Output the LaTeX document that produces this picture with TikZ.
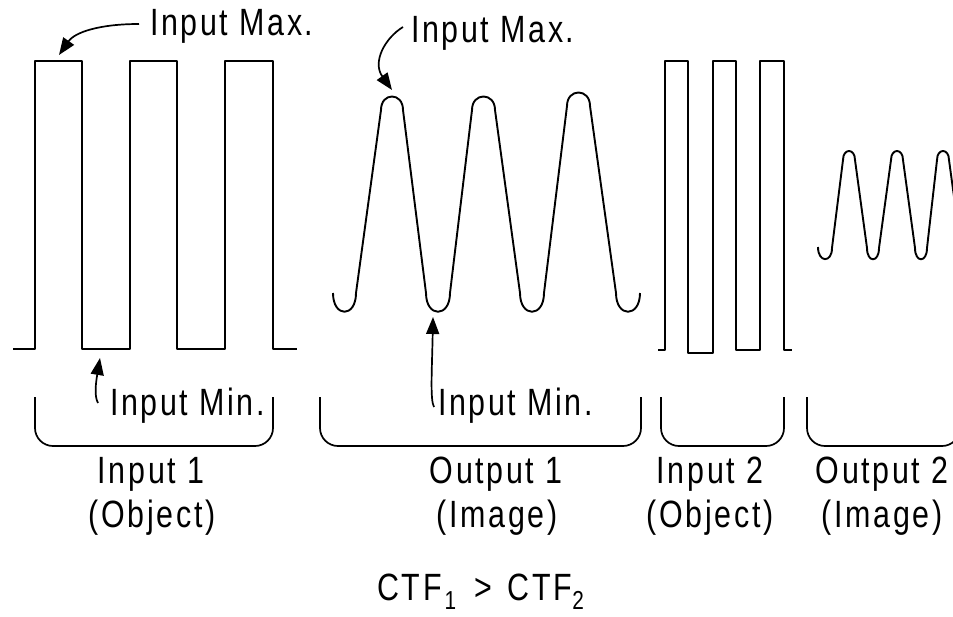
\documentclass[tikz,border=0pt]{standalone}
\usepackage{fontspec}
\setmainfont{Liberation Sans}[FakeStretch=0.8,LetterSpace=7]
\usetikzlibrary{arrows.meta}
\newcommand{\lowsub}[1]{\raisebox{-9pt}{\fontsize{26}{26}\selectfont #1}}
\begin{document}
\begin{tikzpicture}[x=1pt,y=-1pt,
  wave/.style={line width=1.9pt,line join=round},
  brace/.style={line width=1.7pt,rounded corners=18pt},
  lbl/.style={inner sep=0pt,font=\fontsize{38}{44}\selectfont},
  pointer/.style={line width=1.7pt,-{Triangle[length=17pt,width=13pt]}}]
\path[use as bounding box] (0,0) rectangle (953,616);
\clip (0,0) rectangle (953,616);

% Input 1 square wave
\draw[wave] (13,349)--(35,349)--(35,61)--(82,61)--(82,349)--(130,349)--(130,61)--(177,61)--(177,349)--(225,349)--(225,61)--(273,61)--(273,349)--(297,349);
% Output 1 wave
\draw[wave] (333,293) .. controls (333,318) and (356,318) .. (356,293)
 -- (381,110) .. controls (381,92) and (403,92) .. (403,110)
 -- (426,293) .. controls (426,318) and (450,318) .. (450,293)
 -- (472,110) .. controls (472,92) and (495,92) .. (495,110)
 -- (520,293) .. controls (520,318) and (544,318) .. (544,293)
 -- (567,106) .. controls (567,88) and (590,88) .. (590,106)
 -- (616,293) .. controls (616,318) and (640,318) .. (640,293);
% Input 2 square wave
\draw[wave] (658,350)--(665,350)--(665,61)--(688,61)--(688,353)--(713,353)--(713,61)--(736,61)--(736,350)--(760,350)--(760,61)--(784,61)--(784,350)--(792,350);
% Output 2 wave
\draw[wave] (818,247) .. controls (818,263) and (832,263) .. (832,248)
 -- (843,160) .. controls (843,148) and (855,148) .. (855,160)
 -- (867,248) .. controls (867,263) and (879,263) .. (879,248)
 -- (891,160) .. controls (891,148) and (903,148) .. (903,160)
 -- (915,248) .. controls (915,263) and (927,263) .. (927,248)
 -- (937,160) .. controls (937,148) and (949,148) .. (949,160)
 -- (961,248);

% brackets
\draw[brace] (35,397)--(35,446)--(273,446)--(273,397);
\draw[brace] (320,397)--(320,446)--(641,446)--(641,397);
\draw[brace] (661,397)--(661,446)--(784,446)--(784,397);
\draw[brace] (807,397)--(807,446)--(960,446)--(960,397);

% labels
\node[lbl,anchor=base west] (max1) at (150,35) {Input Max.};
\node[lbl,anchor=base west] (max2) at (411,42) {Input Max.};
\node[lbl,anchor=base west] (min1) at (110,415) {Input Min.};
\node[lbl,anchor=base west] (min2) at (438,415) {Input Min.};
\node[lbl,anchor=base] (in1) at (151,483) {Input 1};
\node[lbl,anchor=base] (in1b) at (152,527) {(Object)};
\node[lbl,anchor=base] (out1) at (496,483) {Output 1};
\node[lbl,anchor=base] (out1b) at (497,527) {(Image)};
\node[lbl,anchor=base] (in2) at (710,483) {Input 2};
\node[lbl,anchor=base] (in2b) at (710,527) {(Object)};
\node[lbl,anchor=base] (out2) at (882,483) {Output 2};
\node[lbl,anchor=base] (out2b) at (882,527) {(Image)};
\node[lbl,anchor=base west] (ctf) at (377,600) {CTF\hspace{3pt}\lowsub{1}\hspace{18pt}>\hspace{16pt}CTF\lowsub{2}};

% pointer coordinates
\coordinate (t1) at (139,24);
\coordinate (p1) at (59,55);
\coordinate (t2) at (403,27);
\coordinate (p2) at (392,90);
\coordinate (t3) at (98,403);
\coordinate (p3) at (100,358);
\coordinate (t4) at (434,407);
\coordinate (p4) at (433,317);
\draw[pointer] (t1) .. controls (100,24) and (75,32) .. (p1);
\draw[pointer] (t2) .. controls (385,38) and (372,62) .. (p2);
\draw[pointer] (t3) .. controls (94,396) and (96,382) .. (p3);
\draw[pointer] (t4) .. controls (430,400) and (432,370) .. (p4);
\end{tikzpicture}
\end{document}
